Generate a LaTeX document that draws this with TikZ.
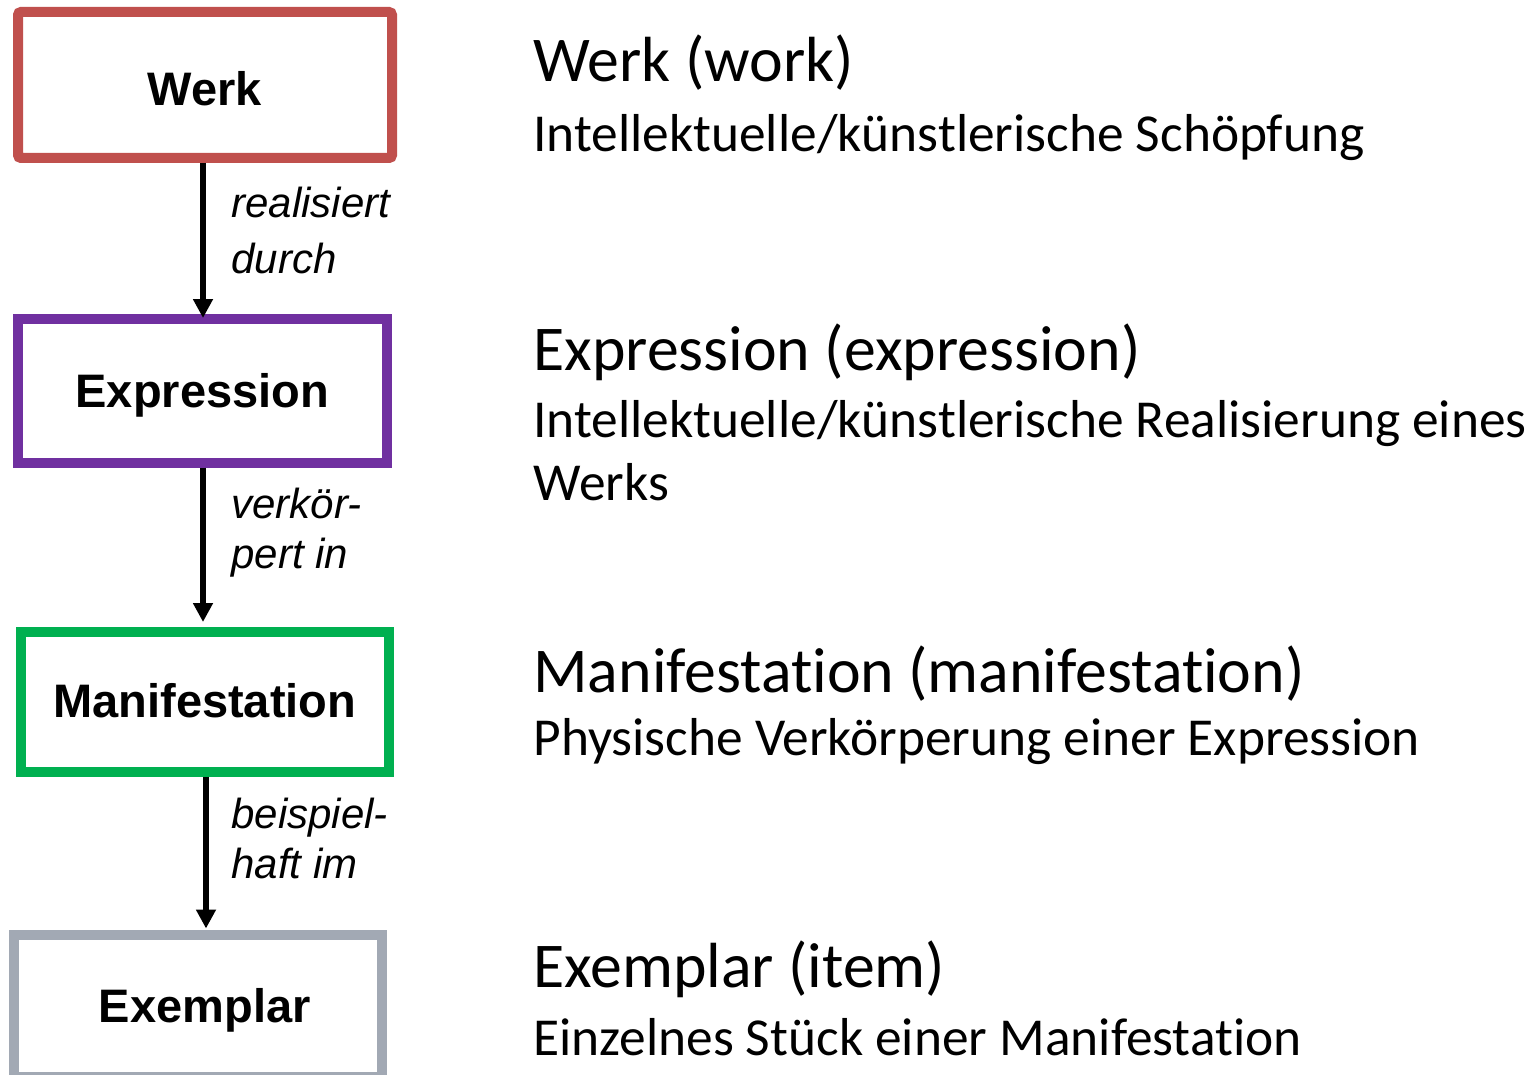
\documentclass[tikz,border=0pt]{standalone}
\usepackage{fontspec}
\setmainfont{Liberation Sans}
\newfontfamily\calfont[Ligatures={NoCommon}]{Carlito}
\usetikzlibrary{arrows.meta}
\definecolor{werkred}{HTML}{C0504D}
\definecolor{exprpurple}{HTML}{7030A0}
\definecolor{manifgreen}{HTML}{00B050}
\definecolor{exemgray}{HTML}{A2A9B4}
\begin{document}
\begin{tikzpicture}[x=0.5pt,y=-0.5pt,
  entity/.style={draw, line width=5pt, fill=white, inner sep=0pt,
    font=\bfseries\fontsize{23.5}{28}\selectfont, text height=17pt, text depth=0pt},
  arr/.style={line width=3.3pt, -{Triangle[width=9.5pt,length=9.5pt]}},
  rel/.style={anchor=base west, inner sep=0pt, font=\itshape\fontsize{21}{25}\selectfont},
  ttl/.style={anchor=base west, inner sep=0pt, font=\calfont\fontsize{31.9}{38}\selectfont},
  dsc/.style={anchor=base west, inner sep=0pt, font=\calfont\fontsize{26.7}{32}\selectfont}]
\useasboundingbox[fill=white] (0,0) rectangle (1535,1075);

\node[entity, draw=werkred, rounded corners=1.5pt, minimum width=187pt, minimum height=73pt, text height=21pt] (werk) at (205,85) {Werk};
\node[entity, draw=exprpurple, minimum width=184.25pt, minimum height=72pt] (expr) at (202.25,390.5) {Expression};
\node[entity, draw=manifgreen, minimum width=183.75pt, minimum height=69.75pt, text height=16pt] (manif) at (204.75,701.75) {Manifestation};
\node[entity, draw=exemgray, minimum width=184.25pt, minimum height=71.25pt, text height=16.25pt] (exem) at (197.75,1005.75) {\hspace*{7pt}Exemplar};

\coordinate (xa) at (203,0);
\coordinate (xb) at (203,0);
\coordinate (xc) at (206,0);
\draw[arr, shorten >=-2.25pt] (werk.south -| xa) -- (expr.north -| xa);
\draw[arr, shorten >=2.5pt] (expr.south -| xb) -- (manif.north -| xb);
\draw[arr, shorten >=0.5pt] (manif.south -| xc) -- (exem.north -| xc);

\node[rel] (r1a) at (231,218) {realisiert};
\node[rel] (r1b) at (231,273) {durch};
\node[rel] (r2a) at (231,518) {verkör-};
\node[rel] (r2b) at (231,568) {pert in};
\node[rel] (r3a) at (231,828) {beispiel-};
\node[rel] (r3b) at (231,878) {haft im};

\node[ttl] (t1) at (533,82) {Werk (work)};
\node[dsc] (d1) at (533,152) {Intellektuelle/künstlerische Schöpfung};
\node[ttl] (t2) at (533,370) {Expression (expression)};
\node[dsc] (d2a) at (533,437) {Intellektuelle/künstlerische Realisierung eines};
\node[dsc] (d2b) at (533,500) {Werks};
\node[ttl] (t3) at (533,692) {Manifestation (manifestation)};
\node[dsc] (d3) at (533,755) {Physische Verkörperung einer Expression};
\node[ttl] (t4) at (533,987) {Exemplar (item)};
\node[dsc] (d4) at (533,1055) {Einzelnes Stück einer Manifestation};
\end{tikzpicture}
\end{document}
